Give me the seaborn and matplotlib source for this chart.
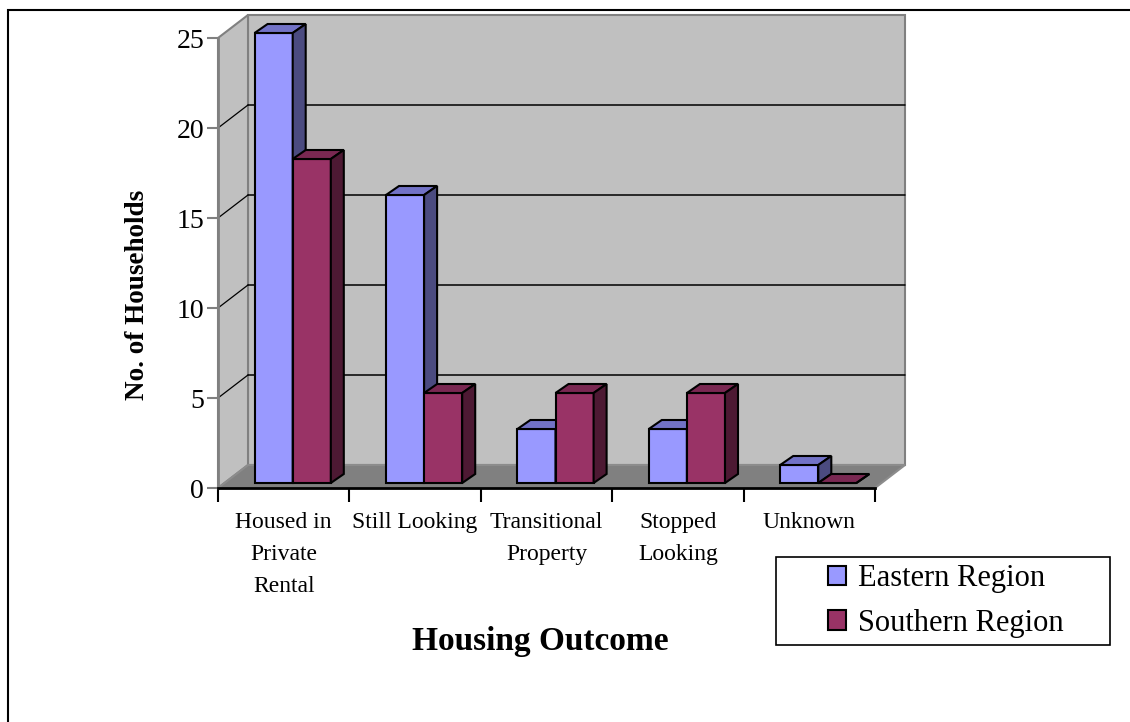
import matplotlib
matplotlib.use("Agg")
import matplotlib.pyplot as plt
from matplotlib.patches import Polygon, Rectangle
from matplotlib.lines import Line2D
import seaborn as sns
import pandas as pd

# Housing outcomes by region
outcomes = ["Housed in\nPrivate\nRental", "Still Looking", "Transitional\nProperty",
            "Stopped\nLooking", "Unknown"]
regions = ["Eastern Region", "Southern Region"]
eastern = [25, 16, 3, 3, 1]
southern = [18, 5, 5, 5, 0]
y_ticks = [0, 5, 10, 15, 20, 25]

df = pd.DataFrame({
    "outcome": outcomes * 2,
    "region": [regions[0]] * len(outcomes) + [regions[1]] * len(outcomes),
    "households": eastern + southern,
})

# face colours: front, top, side
front_cols = ["#9999FF", "#993366"]
top_cols = ["#7272C6", "#7A2852"]
side_cols = ["#4B4B80", "#4D1933"]

sns.set_style("white")
plt.rcParams["font.family"] = ["Liberation Serif", "DejaVu Serif"]
plt.rcParams["text.color"] = "black"
plt.rcParams["axes.labelcolor"] = "black"
plt.rcParams["xtick.color"] = "black"
plt.rcParams["ytick.color"] = "black"

W, H = 1130, 722
fig = plt.figure(figsize=(W / 100, H / 100), dpi=100)
ax = fig.add_axes([218 / W, (H - 488) / H, 657 / W, 450 / H])

sns.barplot(data=df, x="outcome", y="households", hue="region",
            palette=front_cols, saturation=1, width=0.58,
            edgecolor="black", linewidth=1.5, ax=ax)

ax.set_xlim(-0.5, 4.5)
ax.set_ylim(0, 25)
ax.set_facecolor("white")

# pixel -> data conversion for the oblique depth
ux = 5.0 / ax.bbox.width
uy = 25.0 / ax.bbox.height
DX, DY = 30, 23          # depth of the box
FX, FY = 9, 5            # bar front plane
BX, BY = 13, 9           # bar depth
dxu, dyu = DX * ux, DY * uy

# back wall, side wall and floor
ax.add_patch(Rectangle((-0.5 + dxu, dyu), 5, 25, facecolor="#C0C0C0",
                       edgecolor="#808080", lw=1.5, zorder=0.1, clip_on=False))
ax.add_patch(Polygon([(-0.5, 0), (-0.5 + dxu, dyu), (-0.5 + dxu, 25 + dyu), (-0.5, 25)],
                     closed=True, facecolor="#C0C0C0", edgecolor="#808080", lw=1.5,
                     zorder=0.1, clip_on=False))
ax.add_patch(Polygon([(-0.5, 0), (4.5, 0), (4.5 + dxu, dyu), (-0.5 + dxu, dyu)],
                     closed=True, facecolor="#808080", edgecolor="#8C8C8C", lw=1.5,
                     zorder=0.2, clip_on=False))
for v in y_ticks[1:-1]:
    ax.add_line(Line2D([-0.5 + dxu, 4.5 + dxu], [v + dyu, v + dyu], color="black",
                       lw=1.1, zorder=0.15, clip_on=False))
    ax.add_line(Line2D([-0.5, -0.5 + dxu], [v, v + dyu], color="black",
                       lw=0.9, zorder=0.15, clip_on=False))

# turn the flat bars into oblique boxes
for i, cont in enumerate(ax.containers):
    z = 3 + i
    for bar in cont:
        x0, w, h = bar.get_x(), bar.get_width(), bar.get_height()
        xa = x0 + FX * ux
        xb = xa + w
        yb = FY * uy
        yt = h + yb
        bar.set_x(xa)
        bar.set_y(yb)
        bar.set_zorder(z)
        bar.set_clip_on(False)
        ax.add_patch(Polygon([(xa, yt), (xb, yt), (xb + BX * ux, yt + BY * uy),
                              (xa + BX * ux, yt + BY * uy)], closed=True,
                             facecolor=top_cols[i], edgecolor="black", lw=1.5,
                             zorder=z + 0.5, clip_on=False))
        ax.add_patch(Polygon([(xb, yb), (xb, yt), (xb + BX * ux, yt + BY * uy),
                              (xb + BX * ux, yb + BY * uy)], closed=True,
                             facecolor=side_cols[i], edgecolor="black", lw=1.5,
                             zorder=z + 0.5, clip_on=False))

# axes
for s in ["top", "right"]:
    ax.spines[s].set_visible(False)
ax.spines["left"].set_color("#808080")
ax.spines["left"].set_linewidth(2)
ax.spines["bottom"].set_color("black")
ax.spines["bottom"].set_linewidth(2)
ax.spines["left"].set_zorder(6)
ax.spines["bottom"].set_zorder(6)

ax.set_yticks(y_ticks)
ax.set_yticklabels([str(t) for t in y_ticks])
ax.tick_params(axis="y", direction="out", length=8, width=1.5, color="#808080",
               labelcolor="black", labelsize=20, pad=2, left=True)
ax.set_xticks(range(len(outcomes)))
ax.set_xticklabels(outcomes, linespacing=1.7)
ax.set_xticks([i - 0.5 for i in range(len(outcomes) + 1)], minor=True)
ax.tick_params(axis="x", which="major", length=0, labelsize=17, pad=17,
               labelcolor="black")
ax.tick_params(axis="x", which="minor", direction="out", length=10, width=1.5,
               color="black", bottom=True)

ax.set_ylabel("No. of Households", fontsize=19.5, fontweight="bold", color="black")
ax.yaxis.set_label_coords((150 - 218) / 657, (488 - 295) / 450)
ax.set_xlabel("Housing Outcome", fontsize=24, fontweight="bold", color="black")
ax.xaxis.set_label_coords((540 - 218) / 657, (488 - 626) / 450)
ax.xaxis.label.set_va("top")

# legend
sns.move_legend(ax, "center left", bbox_to_anchor=(800 / W, 1 - 601 / H),
                bbox_transform=fig.transFigure, frameon=False, title=None,
                fontsize=22, handlelength=0.6, handleheight=0.6,
                handletextpad=0.4, labelspacing=0.5)
for hnd in ax.get_legend().legend_handles:
    hnd.set_edgecolor("black")
    hnd.set_linewidth(1.5)
for txt in ax.get_legend().get_texts():
    txt.set_color("black")
fig.patches.append(Rectangle((776 / W, 1 - 645 / H), 334 / W, 88 / H,
                             transform=fig.transFigure, facecolor="none",
                             edgecolor="black", lw=1.2))

# chart area border
fig.patches.append(Rectangle((8 / W, -0.1), 1.2, 1.1 - 10 / H,
                             transform=fig.transFigure, facecolor="none",
                             edgecolor="black", lw=1.5))

fig.savefig("out.png", dpi=100)
